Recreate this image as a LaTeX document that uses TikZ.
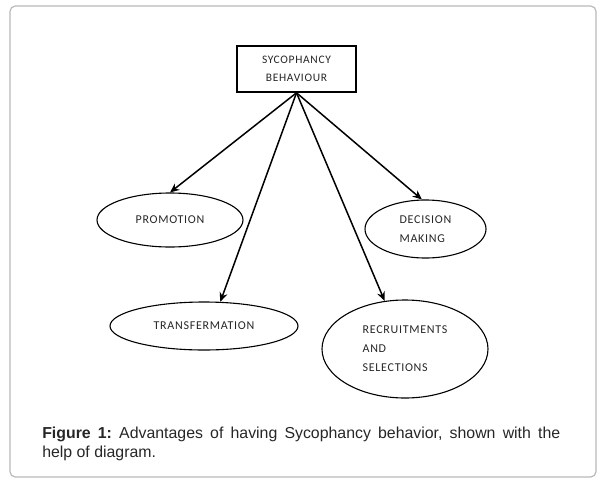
\documentclass[tikz,border=0pt]{standalone}
\usepackage{fontspec}
\setmainfont{Liberation Sans}
\newfontfamily\diafont[LetterSpace=6]{Carlito}
\usetikzlibrary{shapes.geometric,arrows.meta}
\tikzset{
  oval/.style={draw=black, line width=1.1pt*0.75, ellipse, inner sep=0pt, font=\diafont\fontsize{9pt}{14.25pt}\selectfont, text=black!85},
  arr/.style={line width=1.5pt*0.75, -{Stealth[length=7pt,width=6pt]}},
}
\begin{document}
\begin{tikzpicture}[x=0.75pt,y=-0.75pt]
\useasboundingbox (0,0) rectangle (600,483);
\draw[gray!55, line width=0.9pt, rounded corners=4pt] (10,6) rectangle (596,477);
\node[draw=black, line width=1.6pt*0.75, minimum width=89.25pt, minimum height=34.5pt, align=center,
  font=\diafont\fontsize{8.6pt}{13.5pt}\selectfont, text=black!85] (box) at (296.5,69) {SYCOPHANCY\\BEHAVIOUR};
\node[oval, minimum width=109.5pt, minimum height=40.5pt] (prom) at (170,220) {PROMOTION};
\node[oval, minimum width=90.75pt, minimum height=43.5pt, align=left] (dec) at (425.5,229) {DECISION\\MAKING};
\node[oval, minimum width=141pt, minimum height=36pt] (trans) at (204,326) {TRANSFERMATION};
\node[oval, minimum width=124.5pt, minimum height=73.5pt, align=left] (rec) at (405,349) {RECRUITMENTS\\AND\\SELECTIONS};
\draw[arr] (box.south) -- (prom.north);
\draw[arr] (box.south) -- (dec.97);
\draw[arr] (box.south) -- (trans.56);
\draw[arr] (box.south) -- (rec);
\node[anchor=north west, text width=388.5pt, align=justify, inner sep=0pt,
  font=\fontsize{11.9pt}{14.25pt}\selectfont, text=black!85] (cap) at (42,427)
  {\frenchspacing\hyphenpenalty=10000 \textbf{Figure 1:} Advantages of having Sycophancy behavior, shown with the\linebreak help of diagram.};
\end{tikzpicture}
\end{document}
